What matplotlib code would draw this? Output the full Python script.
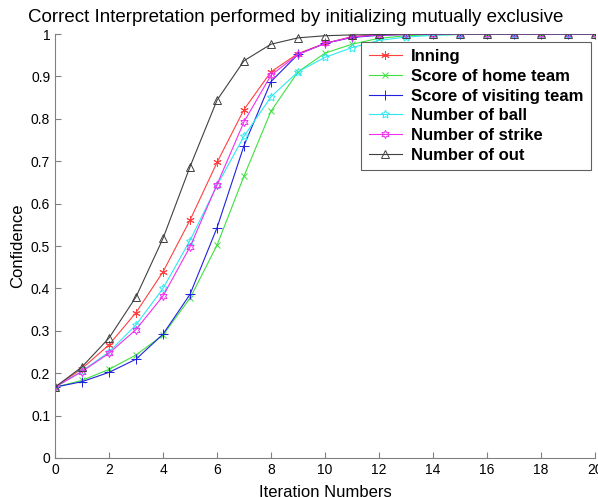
import numpy as np
import matplotlib
matplotlib.use('Agg')
import matplotlib.pyplot as plt

plt.rcParams['font.family'] = ['Liberation Sans', 'DejaVu Sans']

# Iterationen
it = np.arange(0, 21)

# Konfidenz je Attribut
inning   = [0.167, 0.211, 0.267, 0.343, 0.439, 0.561, 0.697, 0.822, 0.911, 0.954, 0.978,
            0.994, 0.998, 0.999, 1.0, 1.0, 1.0, 1.0, 1.0, 1.0, 1.0]
home     = [0.167, 0.183, 0.209, 0.243, 0.290, 0.377, 0.502, 0.665, 0.818, 0.911, 0.955,
            0.976, 0.990, 0.996, 0.998, 0.999, 1.0, 1.0, 1.0, 1.0, 1.0]
visiting = [0.167, 0.180, 0.202, 0.233, 0.292, 0.386, 0.543, 0.737, 0.888, 0.952, 0.978,
            0.992, 0.997, 0.999, 1.0, 1.0, 1.0, 1.0, 1.0, 1.0, 1.0]
ball     = [0.167, 0.205, 0.250, 0.314, 0.400, 0.513, 0.643, 0.759, 0.852, 0.911, 0.945,
            0.968, 0.985, 0.993, 0.997, 0.999, 1.0, 1.0, 1.0, 1.0, 1.0]
strike   = [0.167, 0.204, 0.247, 0.303, 0.382, 0.498, 0.645, 0.793, 0.903, 0.952, 0.978,
            0.993, 0.998, 0.999, 1.0, 1.0, 1.0, 1.0, 1.0, 1.0, 1.0]
out      = [0.167, 0.215, 0.283, 0.380, 0.518, 0.687, 0.844, 0.937, 0.976, 0.991, 0.996,
            0.998, 0.999, 1.0, 1.0, 1.0, 1.0, 1.0, 1.0, 1.0, 1.0]

labels = ['Inning', 'Score of home team', 'Score of visiting team',
          'Number of ball', 'Number of strike', 'Number of out']

fig = plt.figure(figsize=(5.98, 4.97), dpi=100)
ax = fig.add_axes([0.092, 0.0785, 0.903, 0.853])

lw = 0.8
mew = 0.7
ax.plot(it, inning, color='#ff4040', marker=(6, 2, 0), ms=6, mew=mew, lw=lw, label=labels[0])
ax.plot(it, home, color='#40e040', marker='x', ms=5, mew=mew, lw=lw, label=labels[1])
ax.plot(it, visiting, color='#2020e0', marker='+', ms=7, mew=mew, lw=lw, label=labels[2])
ax.plot(it, ball, color='#30e8f0', marker=(5, 1, 0), ms=6, mew=mew, lw=lw, mfc='none', label=labels[3])
ax.plot(it, strike, color='#f030f0', marker=(6, 1, 0), ms=6, mew=mew, lw=lw, mfc='none', label=labels[4])
ax.plot(it, out, color='#404040', marker='^', ms=6, mew=mew, lw=lw, mfc='none', label=labels[5])

ax.set_xlim(0, 20)
ax.set_ylim(0, 1)
ax.set_xticks(np.arange(0, 21, 2))
ax.set_yticks(np.arange(0, 1.01, 0.1))
ax.set_yticklabels(['0', '0.1', '0.2', '0.3', '0.4', '0.5', '0.6', '0.7', '0.8', '0.9', '1'])
ax.tick_params(direction='in', length=4, width=0.8, labelsize=10, color='#808080')
ax.spines['top'].set_visible(False)
ax.spines['right'].set_visible(False)
ax.spines['left'].set_color('#808080')
ax.spines['bottom'].set_color('#808080')

fig.text(296 / 598, 1 - 17 / 497, 'Correct Interpretation performed by initializing mutually exclusive',
         fontsize=13.5, ha='center', va='center')
ax.set_xlabel('Iteration Numbers', fontsize=12, labelpad=6)
ax.set_ylabel('Confidence', fontsize=12, labelpad=4)

leg = ax.legend(loc='upper right', bbox_to_anchor=(0.9926, 0.982), borderaxespad=0,
                prop={'weight': 'bold', 'size': 12}, fancybox=False,
                handlelength=2.0, handletextpad=0.55, labelspacing=0.28,
                borderpad=0.45, framealpha=1)
leg.get_frame().set_edgecolor('#606060')
leg.get_frame().set_linewidth(0.8)

fig.savefig('out.png', dpi=100)
